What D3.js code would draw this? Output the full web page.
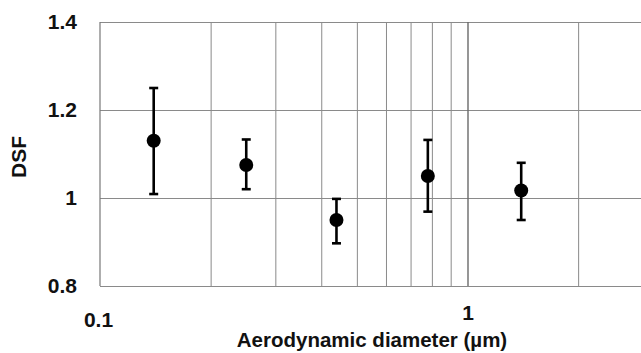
<!DOCTYPE html>
<html>
<head>
<meta charset="utf-8">
<script src="https://cdn.jsdelivr.net/npm/d3@7"></script>
<style>
  html, body { margin: 0; padding: 0; background: #fff; }
  svg { display: block; font-family: "Liberation Sans", Arial, sans-serif; }
</style>
</head>
<body>
<svg id="chart" width="641" height="353"></svg>
<script>
// Data
const diameters = [0.14, 0.25, 0.44, 0.78, 1.4];      // aerodynamic diameter (µm)
const dsfValues = [1.13, 1.075, 0.95, 1.05, 1.017];     // DSF
const upperBounds = [1.25, 1.133, 0.998, 1.132, 1.08];  // error bar top
const lowerBounds = [1.009, 1.02, 0.897, 0.969, 0.95];  // error bar bottom
const yTicks = [0.8, 1, 1.2, 1.4];
const xTickLabels = [0.1, 1];
const xGridValues = [0.2, 0.3, 0.4, 0.5, 0.6, 0.7, 0.8, 0.9, 1, 2, 3];

const svg = d3.select("#chart");
const plotLeft = 100, plotTop = 22, plotBottom = 286;

const x = d3.scaleLog().domain([0.1, 10]).range([plotLeft, plotLeft + 2 * 367.5]);
const y = d3.scaleLinear().domain([0.8, 1.4]).range([plotBottom, plotTop]);

// horizontal grid
const gy = svg.append("g").attr("transform", `translate(${plotLeft},0)`)
  .call(d3.axisLeft(y).tickValues(yTicks).tickSize(-(x(10) - plotLeft)).tickFormat(""));
gy.select(".domain").remove();
gy.selectAll("line").attr("stroke", "#8a8a8a").attr("stroke-width", 1);

// vertical grid
const gx = svg.append("g").attr("transform", `translate(0,${plotBottom})`)
  .call(d3.axisBottom(x).tickValues(xGridValues).tickSize(-(plotBottom - plotTop)).tickFormat(""));
gx.select(".domain").remove();
gx.selectAll("line").attr("stroke", d => d === 1 ? "#6a6a6a" : "#8a8a8a").attr("stroke-width", d => d === 1 ? 1.4 : 1);

// left border
svg.append("line").attr("x1", plotLeft).attr("x2", plotLeft).attr("y1", y(1.4)).attr("y2", y(0.8))
  .attr("stroke", "#777").attr("stroke-width", 1.2);

// y tick labels
const yl = svg.append("g").attr("transform", `translate(${plotLeft},0)`)
  .call(d3.axisLeft(y).tickValues(yTicks).tickSize(0).tickPadding(23).tickFormat(d => String(d)));
yl.select(".domain").remove();
yl.selectAll("text").attr("font-size", 21).attr("font-weight", "bold").attr("fill", "#111")
  .attr("font-family", "Liberation Sans, Arial, sans-serif");

// x tick labels
const xl = svg.append("g").attr("transform", `translate(0,${plotBottom})`)
  .call(d3.axisBottom(x).tickValues(xTickLabels).tickSize(0).tickPadding(25).tickFormat(d => String(d)));
xl.select(".domain").remove();
xl.selectAll("text").attr("font-size", 21).attr("font-weight", "bold").attr("fill", "#111")
  .attr("font-family", "Liberation Sans, Arial, sans-serif")
  .attr("dx", d => d === 0.1 ? -2 : 0)
  .attr("y", d => d === 1 ? 19 : 26);

// axis titles
svg.append("text").attr("x", 372).attr("y", 347).attr("text-anchor", "middle")
  .attr("font-size", 20.5).attr("font-weight", "bold").attr("fill", "#111")
  .text("Aerodynamic diameter (µm)");
svg.append("text").attr("transform", `translate(26,${157}) rotate(-90)`).attr("text-anchor", "middle")
  .attr("font-size", 21).attr("font-weight", "bold").attr("fill", "#111")
  .text("DSF");

// error bars and points
const pts = diameters.map((d, i) => ({ d, v: dsfValues[i], hi: upperBounds[i], lo: lowerBounds[i] }));
const eb = svg.append("g");
eb.selectAll("line.v").data(pts).join("line").attr("class", "v")
  .attr("x1", p => x(p.d)).attr("x2", p => x(p.d)).attr("y1", p => y(p.hi)).attr("y2", p => y(p.lo))
  .attr("stroke", "#000").attr("stroke-width", 2.6);
eb.selectAll("line.t").data(pts).join("line").attr("class", "t")
  .attr("x1", p => x(p.d) - 4.5).attr("x2", p => x(p.d) + 4.5).attr("y1", p => y(p.hi)).attr("y2", p => y(p.hi))
  .attr("stroke", "#000").attr("stroke-width", 2.6);
eb.selectAll("line.b").data(pts).join("line").attr("class", "b")
  .attr("x1", p => x(p.d) - 4.5).attr("x2", p => x(p.d) + 4.5).attr("y1", p => y(p.lo)).attr("y2", p => y(p.lo))
  .attr("stroke", "#000").attr("stroke-width", 2.6);
svg.append("g").selectAll("circle").data(pts).join("circle")
  .attr("cx", p => x(p.d)).attr("cy", p => y(p.v)).attr("r", 7).attr("fill", "#000");
</script>
</body>
</html>
